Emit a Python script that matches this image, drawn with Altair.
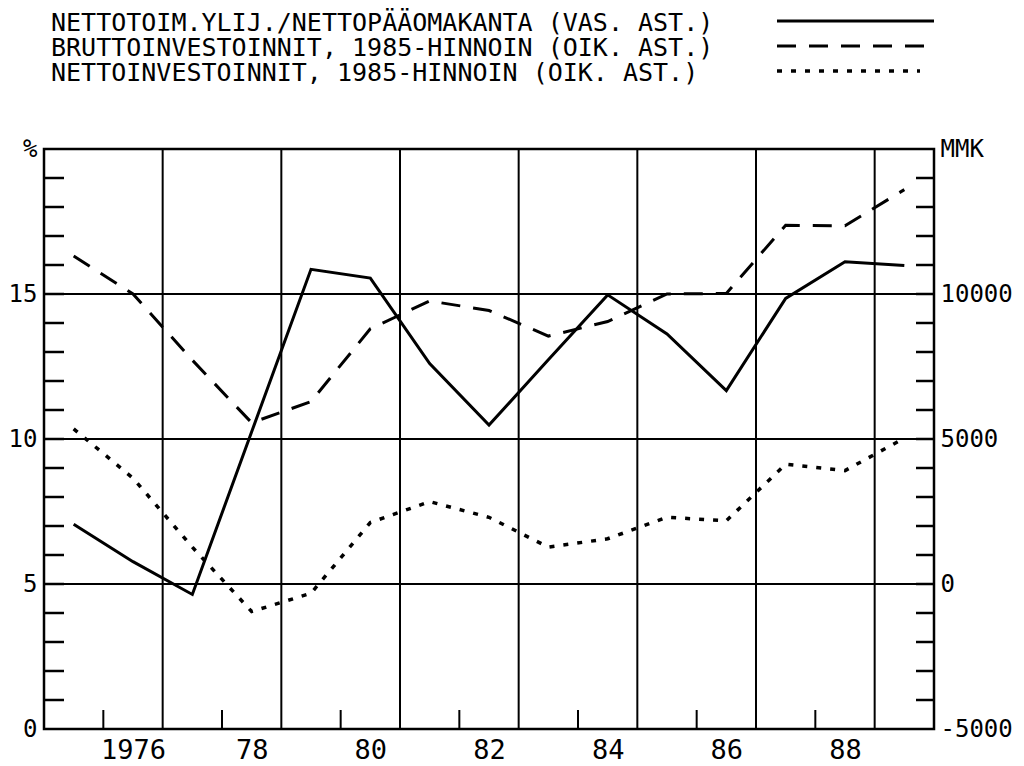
import altair as alt
import pandas as pd

# ---- data ----
years = [1975, 1976, 1977, 1978, 1979, 1980, 1981, 1982, 1983, 1984, 1985, 1986, 1987, 1988, 1989]
surplus_pct = [7.06, 5.77, 4.64, 10.25, 15.85, 15.55, 12.60, 10.48, 12.73, 14.97, 13.62, 11.67, 14.85, 16.11, 15.98]
gross_inv = [11310, 10000, 7720, 5560, 6290, 8800, 9760, 9430, 8550, 9050, 10000, 10020, 12370, 12350, 13600]
net_inv = [5350, 3650, 1270, -950, -320, 2120, 2840, 2300, 1270, 1560, 2300, 2180, 4130, 3910, 5030]

legend_labels = [
    "NETTOTOIM.YLIJ./NETTOPÄÄOMAKANTA (VAS. AST.)",
    "BRUTTOINVESTOINNIT, 1985-HINNOIN (OIK. AST.)",
    "NETTOINVESTOINNIT, 1985-HINNOIN (OIK. AST.)",
]

x_label_values = [1976, 1978, 1980, 1982, 1984, 1986, 1988]
x_label_texts = ["1976", "78", "80", "82", "84", "86", "88"]
x_grid_values = [1976.5, 1978.5, 1980.5, 1982.5, 1984.5, 1986.5, 1988.5]
x_minor_ticks = [1975.5, 1977.5, 1979.5, 1981.5, 1983.5, 1985.5, 1987.5]

left_label_values = [0, 5, 10, 15, 20]
left_grid_values = [5, 10, 15]
left_minor_ticks = list(range(1, 20))
right_label_values = [-5000, 0, 5000, 10000, 15000]
right_minor_ticks = list(range(-4000, 15000, 1000))

# ---- layout ----
W, H = 890, 580
FONT = "DejaVu Sans Mono"

df = pd.DataFrame({"year": years, "pct": surplus_pct, "gross": gross_inv, "net": net_inv})

x_scale = alt.Scale(domain=[1974.5, 1989.5], nice=False, zero=False)
left_scale = alt.Scale(domain=[0, 20], nice=False, zero=False)
right_scale = alt.Scale(domain=[-5000, 15000], nice=False, zero=False)


def ternary(values, texts, default="''"):
    expr = default
    for v, t in reversed(list(zip(values, texts))):
        expr = f"datum.value == {v} ? '{t}' : ({expr})"
    return expr


x_axis = alt.Axis(
    orient="bottom", values=x_label_values, labelExpr=ternary(x_label_values, x_label_texts),
    ticks=False, tickSize=0, domain=False, grid=False, labelFlush=False,
    labelFont=FONT, labelFontSize=27, labelColor="black", labelPadding=8,
    labelOverlap=False, title=None,
)
left_axis = alt.Axis(
    orient="left", values=left_label_values,
    labelExpr="datum.value == 20 ? '%' : toString(datum.value)",
    ticks=False, tickSize=0, domain=False, grid=False,
    labelFont=FONT, labelFontSize=24, labelColor="black", labelPadding=7,
    labelOverlap=False, title=None,
)
right_axis = alt.Axis(
    orient="right", values=right_label_values,
    labelExpr="datum.value == 15000 ? 'MMK' : toString(datum.value)",
    ticks=False, tickSize=0, domain=False, grid=False,
    labelFont=FONT, labelFontSize=24, labelColor="black", labelPadding=6,
    labelOverlap=False, title=None,
)

X = alt.X("v:Q", scale=x_scale, axis=x_axis)

# gridlines
vgrid = alt.Chart(pd.DataFrame({"v": x_grid_values})).mark_rule(color="black", strokeWidth=2).encode(
    x=X, y=alt.value(0), y2=alt.value(H))
hgrid = alt.Chart(pd.DataFrame({"v": left_grid_values})).mark_rule(color="black", strokeWidth=2).encode(
    y=alt.Y("v:Q", scale=left_scale, axis=None), x=alt.value(0), x2=alt.value(W))

# inward minor ticks
lticks = alt.Chart(pd.DataFrame({"v": left_minor_ticks})).mark_rule(color="black", strokeWidth=2.5).encode(
    y=alt.Y("v:Q", scale=left_scale, axis=None), x=alt.value(0), x2=alt.value(20))
rticks = alt.Chart(pd.DataFrame({"v": right_minor_ticks})).mark_rule(color="black", strokeWidth=2.5).encode(
    y=alt.Y("v:Q", scale=right_scale, axis=None), x=alt.value(W - 18), x2=alt.value(W))
bticks = alt.Chart(pd.DataFrame({"v": x_minor_ticks})).mark_rule(color="black", strokeWidth=2).encode(
    x=X, y=alt.value(H - 19), y2=alt.value(H))

# data lines
XY = alt.X("year:Q", scale=x_scale, axis=x_axis)
solid = alt.Chart(df).mark_line(color="black", strokeWidth=3).encode(
    x=XY, y=alt.Y("pct:Q", scale=left_scale, axis=left_axis))
dashed = alt.Chart(df).mark_line(color="black", strokeWidth=3, strokeDash=[19, 13]).encode(
    x=XY, y=alt.Y("gross:Q", scale=right_scale, axis=right_axis))
dotted = alt.Chart(df).mark_line(color="black", strokeWidth=3.5, strokeDash=[5, 9]).encode(
    x=XY, y=alt.Y("net:Q", scale=right_scale, axis=None))

# legend (text on the left, line sample on the right)
legend_layers = []
dashes = [[1, 0], [19, 13], [5, 9]]
widths = [3, 3, 3.5]
for i, lab in enumerate(legend_labels):
    ty = -118.5 + 25 * i
    ly = -128 + 25 * i
    legend_layers.append(
        alt.Chart(pd.DataFrame({"label": [lab]})).mark_text(
            font=FONT, fontSize=25, align="left", baseline="alphabetic", color="black"
        ).encode(text="label:N", x=alt.value(7), y=alt.value(ty))
    )
    legend_layers.append(
        alt.Chart(pd.DataFrame({"label": [lab]})).mark_rule(
            color="black", strokeWidth=widths[i], strokeDash=dashes[i]
        ).encode(x=alt.value(733), x2=alt.value(890 if i < 2 else 876), y=alt.value(ly))
    )

chart = alt.layer(
    vgrid, hgrid, lticks, rticks, bticks, solid, dashed, dotted, *legend_layers
).resolve_scale(y="independent").properties(
    width=W, height=H,
    padding={"left": 36, "top": 141, "right": 82, "bottom": 37},
    autosize=alt.AutoSizeParams(type="none"),
    background="white",
).configure_view(stroke="black", strokeWidth=2.5)

chart.save("out.html", embed_options={"renderer": "svg", "actions": False})
